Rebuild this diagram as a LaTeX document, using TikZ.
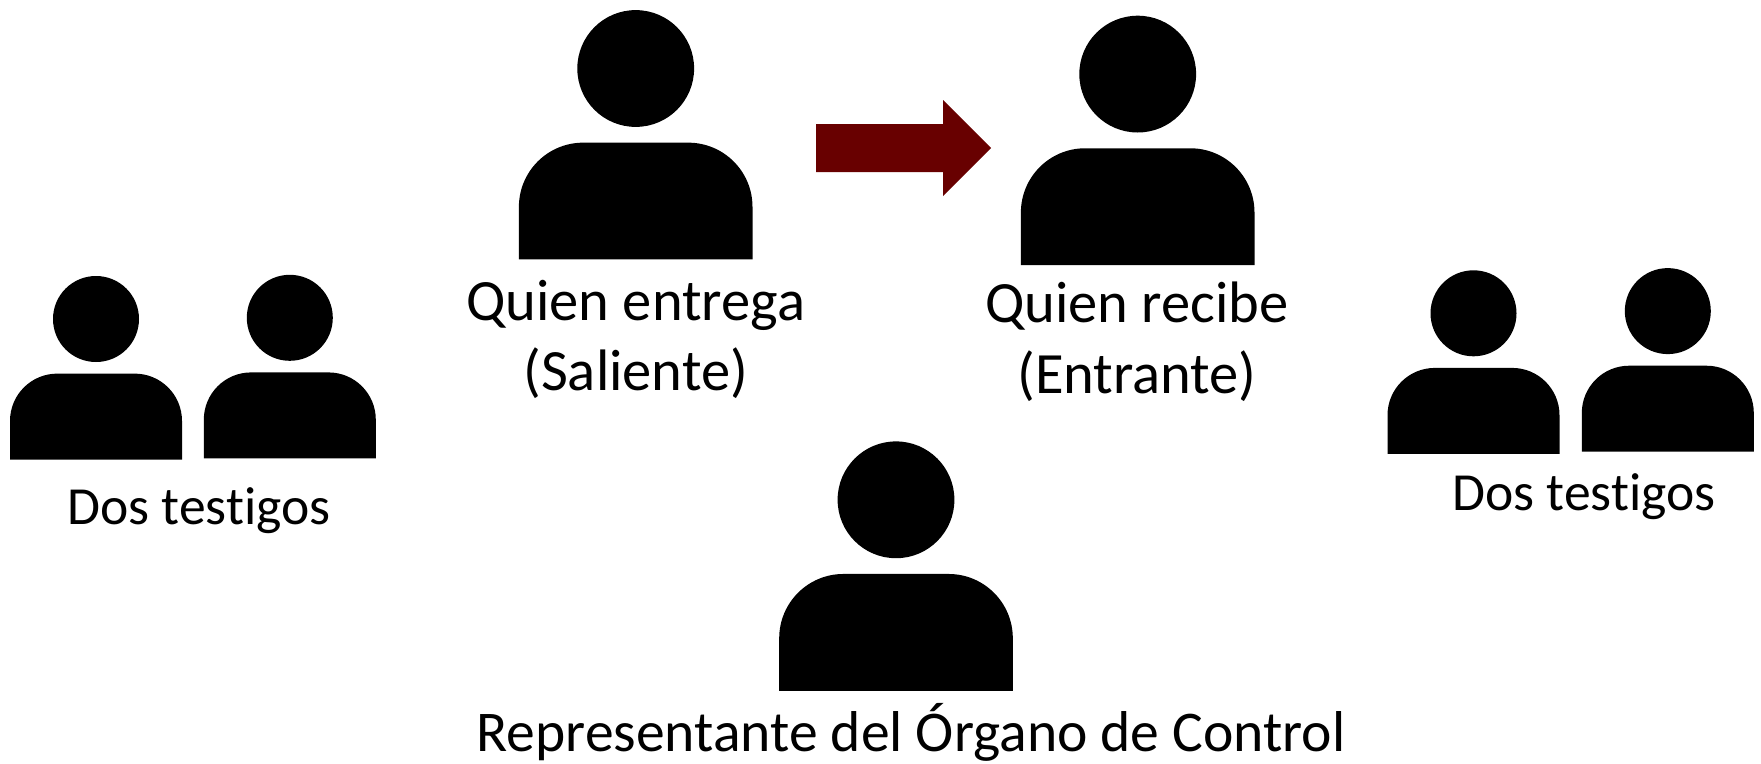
\documentclass[tikz,border=0pt]{standalone}
\usepackage{fontspec}
\setmainfont{Carlito}[Ligatures=NoCommon]
\definecolor{arrowred}{HTML}{680000}
\tikzset{
  lbl/.style={anchor=base,inner sep=0pt,text=black},
  big/.style={lbl,font=\fontsize{58.5}{70}\selectfont},
  wide/.style={lbl,font=\fontsize{57.6}{70}\selectfont},
  small/.style={lbl,font=\fontsize{53.6}{64}\selectfont},
  person/.pic={
    \def\r{\pgfkeysvalueof{/tikz/personr}}
    \fill (-2*\r,3.27*\r) -- (-2*\r,2.37*\r) arc[start angle=180,end angle=90,x radius=1.1*\r,y radius=-1.1*\r]
      -- (0.9*\r,1.27*\r) arc[start angle=90,end angle=0,x radius=1.1*\r,y radius=-1.1*\r] -- (2*\r,3.27*\r) -- cycle;
    \fill (0,0) circle[radius=\r];
  },
  personr/.initial=58.4,
}
\begin{document}
\begin{tikzpicture}[x=1pt,y=-1pt]
\useasboundingbox (0,0) rectangle (1761,763);
\pic[personr=58.4] at (635.7,68.5) {person};
\pic[personr=58.4] at (1137.7,74.1) {person};
\pic[personr=58.4] at (896,499.8) {person};
\pic[personr=43] at (96,319) {person};
\pic[personr=43] at (289.8,317.8) {person};
\pic[personr=43] at (1473.5,313.3) {person};
\pic[personr=43] at (1667.8,311.1) {person};
\fill[arrowred] (816,124) -- (943,124) -- (943,100) -- (991,148) -- (943,196) -- (943,172) -- (816,172) -- cycle;
\node[big] (a1) at (635.7,320) {Quien entrega};
\node[big] (a2) at (635.7,390) {(Saliente)};
\node[big] (b1) at (1137,322) {Quien recibe};
\node[big] (b2) at (1137,393) {(Entrante)};
\node[small] (c) at (199,524) {Dos testigos};
\node[small] (d) at (1584,510) {Dos testigos};
\node[wide] (e) at (911,751) {Representante del Órgano de Control};
\end{tikzpicture}
\end{document}
